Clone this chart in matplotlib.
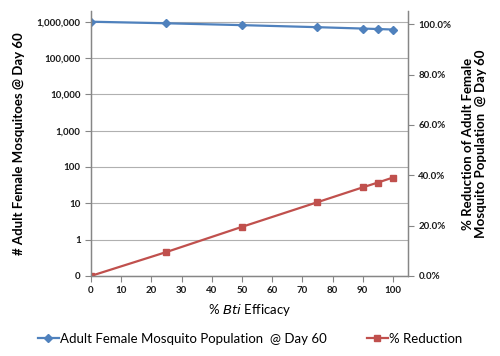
import matplotlib
matplotlib.use("Agg")
import matplotlib.pyplot as plt
from matplotlib.ticker import FixedLocator, FixedFormatter, FuncFormatter
import numpy as np

efficacy = [0, 25, 50, 75, 90, 95, 100]
population = [1000000, 905000, 805000, 707000, 648000, 629000, 609000]
reduction = [0.0, 0.095, 0.195, 0.293, 0.352, 0.371, 0.391]

left_ticks = [0.1, 1, 10, 100, 1000, 10000, 100000, 1000000]
left_labels = ["0", "1", "10", "100", "1,000", "10,000", "100,000", "1,000,000"]
right_ticks = [0, 0.2, 0.4, 0.6, 0.8, 1.0]
x_ticks = list(range(0, 101, 10))

blue = "#4F81BD"
red = "#C0504D"
plt.rcParams['font.family'] = ['Lato', 'DejaVu Sans']

fig = plt.figure(figsize=(5, 3.56), dpi=100)
ax = fig.add_axes([0.182, 0.225, 0.634, 0.744])
ax2 = ax.twinx()

ax.set_yscale("log")
ax.set_ylim(0.1, 10 ** 6.294)
ax.set_xlim(0, 105)
ax2.set_ylim(0, 1.053)

ax.yaxis.set_major_locator(FixedLocator(left_ticks))
ax.yaxis.set_major_formatter(FixedFormatter(left_labels))
ax.yaxis.set_minor_locator(FixedLocator([]))
ax.set_xticks(x_ticks)
ax2.set_yticks(right_ticks)
ax2.yaxis.set_major_formatter(FuncFormatter(lambda v, p: f"{v*100:.1f}%"))

ax.grid(axis="y", color="#b0b0b0", linewidth=0.8)
ax.set_axisbelow(True)

l1, = ax.plot(efficacy, population, color=blue, marker="D", markersize=4, linewidth=1.6)
l2, = ax2.plot(efficacy, reduction, color=red, marker="s", markersize=5, linewidth=1.6)

for a in (ax, ax2):
    a.spines["top"].set_visible(False)
    for s in ("left", "right", "bottom"):
        a.spines[s].set_color("#868686")
        a.spines[s].set_linewidth(0.9)
    a.tick_params(colors="#868686", labelcolor="#1a1a1a", length=4, width=0.8, labelsize=7)
for lbl in ax.get_xticklabels() + ax.get_yticklabels() + ax2.get_yticklabels():
    lbl.set_fontweight("bold")

ax.set_ylabel("# Adult Female Mosquitoes @ Day 60", fontsize=9.5, fontweight="bold", labelpad=8)
ax2.set_ylabel("% Reduction of Adult Female\nMosquito Population  @ Day 60", fontsize=9.5,
               fontweight="bold", rotation=90, va="bottom", linespacing=1.1)
ax2.yaxis.set_label_coords(1.25, 0.5)
ax.set_xlabel(r"% $\mathit{Bti}$ Efficacy", fontsize=9.5, labelpad=5)

fig.legend([l1, l2], ["Adult Female Mosquito Population  @ Day 60", "% Reduction"],
           loc="center", bbox_to_anchor=(0.5, 0.048), ncol=2, frameon=False,
           fontsize=9.5, handlelength=1.6, columnspacing=3.0, handletextpad=0.1)

fig.savefig("out.png", dpi=100)
